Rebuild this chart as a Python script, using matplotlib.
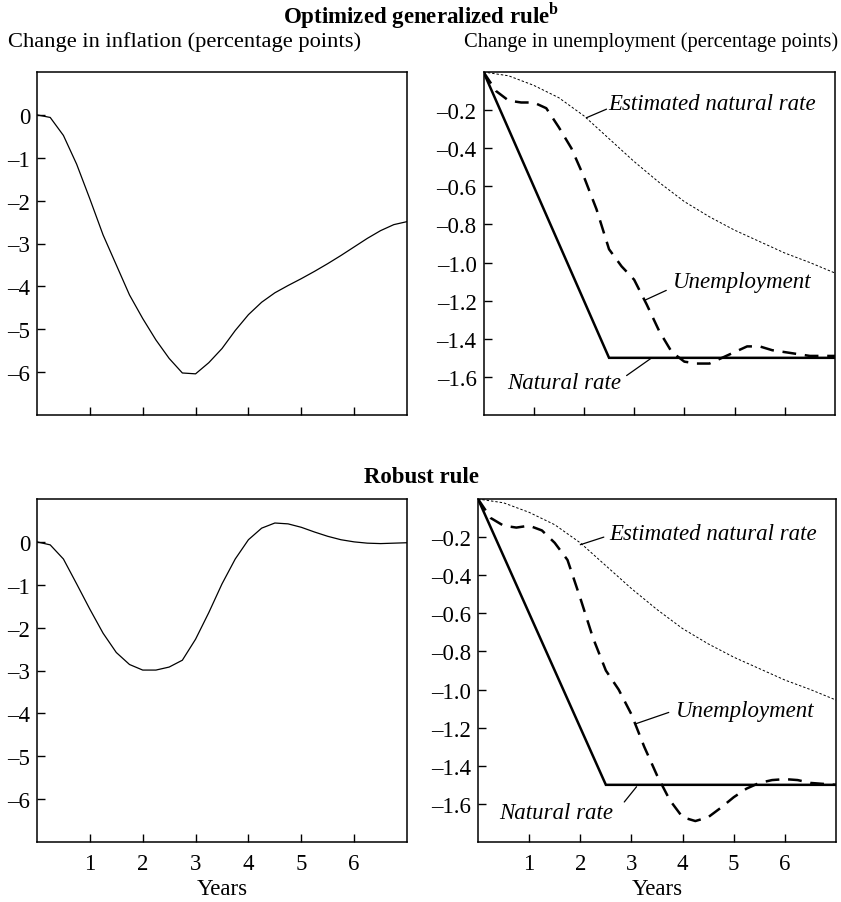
import matplotlib
matplotlib.use("Agg")
import matplotlib.pyplot as plt
from matplotlib.ticker import FixedLocator

plt.rcParams['font.family'] = ['Liberation Serif', 'DejaVu Serif']
plt.rcParams['mathtext.fontset'] = 'custom'
plt.rcParams['mathtext.rm'] = 'Liberation Serif'
plt.rcParams['mathtext.bf'] = 'Liberation Serif:bold'

# Data (quarterly, years 0..7)
years = [i * 0.25 for i in range(29)]

infl_opt = [0, -0.06, -0.48, -1.15, -1.96, -2.80, -3.50, -4.20, -4.75, -5.25,
            -5.68, -6.02, -6.04, -5.78, -5.45, -5.03, -4.66, -4.37, -4.15, -3.98,
            -3.82, -3.65, -3.47, -3.28, -3.08, -2.88, -2.70, -2.56, -2.49]
infl_rob = [0, -0.07, -0.40, -0.98, -1.57, -2.13, -2.58, -2.86, -2.99, -2.99,
            -2.92, -2.76, -2.27, -1.65, -0.98, -0.40, 0.05, 0.32, 0.44, 0.42,
            0.34, 0.23, 0.13, 0.05, 0.00, -0.03, -0.04, -0.03, -0.02]

unemp_opt = [0, -0.10, -0.15, -0.16, -0.16, -0.19, -0.29, -0.40, -0.55, -0.72,
             -0.93, -1.02, -1.09, -1.22, -1.36, -1.47, -1.52, -1.53, -1.53, -1.50,
             -1.47, -1.44, -1.44, -1.46, -1.47, -1.48, -1.49, -1.49, -1.49]
unemp_rob = [0, -0.10, -0.14, -0.15, -0.14, -0.165, -0.23, -0.32, -0.52, -0.73,
             -0.90, -1.00, -1.13, -1.30, -1.45, -1.58, -1.67, -1.69, -1.67, -1.62,
             -1.565, -1.52, -1.49, -1.475, -1.47, -1.475, -1.49, -1.495, -1.50]

# natural rate path (kinked)
nat_years = [0, 2.5, 7]
nat_rate = [0, -1.5, -1.5]

# estimated natural rate (half-year readings)
est_years = [0, 0.5, 1.0, 1.5, 2.0, 2.5, 3.0, 3.5, 4.0, 4.5, 5.0, 5.5, 6.0, 6.5, 7.0]
est_nat = [0, -0.02, -0.07, -0.135, -0.23, -0.35, -0.47, -0.58, -0.68, -0.76,
           -0.83, -0.89, -0.95, -1.00, -1.055]

xticks = [1, 2, 3, 4, 5, 6]
infl_ticks = [0, -1, -2, -3, -4, -5, -6]
unemp_ticks = [-0.2, -0.4, -0.6, -0.8, -1.0, -1.2, -1.4, -1.6]

W, H = 841, 903
fig = plt.figure(figsize=(W / 100, H / 100), dpi=100)


def box(l, t, r, b):
    return [l / W, 1 - b / H, (r - l) / W, (b - t) / H]


ax_tl = fig.add_axes(box(37, 73, 407, 416))
ax_tr = fig.add_axes(box(483.5, 73, 835, 416))
ax_bl = fig.add_axes(box(37, 500, 407, 843))
ax_br = fig.add_axes(box(478, 500, 836, 843))

FS = 16.5


def style(ax, yticks, fmt, show_x):
    ax.set_xlim(0, 7)
    ax.xaxis.set_major_locator(FixedLocator(xticks))
    ax.yaxis.set_major_locator(FixedLocator(yticks))
    ax.set_yticklabels([fmt.format(v).replace('-', '\u2013') for v in yticks])
    ax.tick_params(direction='in', length=6, width=1, top=False, right=False,
                   labelsize=FS, pad=5)
    ax.tick_params(axis='x', pad=8)
    if show_x:
        ax.set_xticklabels([str(v) for v in xticks])
        ax.set_xlabel('Years', fontsize=FS, labelpad=3)
    else:
        ax.set_xticklabels([])
    for s in ax.spines.values():
        s.set_linewidth(1.1)


# inflation panels
ax_tl.plot(years, infl_opt, color='black', lw=0.9)
ax_tl.set_ylim(-7, 1)
style(ax_tl, infl_ticks, '{:d}', False)

ax_bl.plot(years, infl_rob, color='black', lw=0.9)
ax_bl.set_ylim(-7, 1)
style(ax_bl, infl_ticks, '{:d}', True)


def unemp_panel(ax, unemp, show_x):
    ax.plot(nat_years, nat_rate, color='black', lw=1.8, solid_joinstyle='miter')
    ax.plot(est_years, est_nat, color='black', lw=0.7, linestyle=(0, (2.5, 2)))
    ax.plot(years, unemp, color='black', lw=1.8, linestyle=(0, (5.5, 3.5)))
    ax.set_ylim(-1.8, 0)
    style(ax, unemp_ticks, '{:.1f}', show_x)


unemp_panel(ax_tr, unemp_opt, False)
unemp_panel(ax_br, unemp_rob, True)


def label(ax, text, xy_from, xy_to, tx, ty, ha):
    ax.annotate('', xy=xy_from, xytext=xy_to,
                arrowprops=dict(arrowstyle='-', lw=0.9, color='black',
                                shrinkA=0, shrinkB=0))
    ax.text(tx, ty, text, fontsize=FS, style='italic', ha=ha, va='center')


label(ax_tr, 'Estimated natural rate', (2.05, -0.24), (2.45, -0.195), 2.48, -0.163, 'left')
label(ax_tr, 'Unemployment', (3.21, -1.198), (3.64, -1.146), 3.77, -1.10, 'left')
label(ax_tr, 'Natural rate', (3.34, -1.502), (2.85, -1.593), 2.75, -1.63, 'right')

label(ax_br, 'Estimated natural rate', (2.0, -0.24), (2.46, -0.20), 2.57, -0.18, 'left')
label(ax_br, 'Unemployment', (3.08, -1.18), (3.73, -1.12), 3.86, -1.11, 'left')
label(ax_br, 'Natural rate', (3.10, -1.51), (2.86, -1.59), 2.65, -1.645, 'right')

# titles
fig.text(421 / W, 1 - 23 / H, r'Optimized generalized rule$^{\mathbf{b}}$',
         fontsize=16.5, fontweight='bold', ha='center', va='baseline')
fig.text(8 / W, 1 - 47 / H, 'Change in inflation (percentage points)',
         fontsize=16.2, ha='left', va='baseline')
fig.text(838 / W, 1 - 47 / H, 'Change in unemployment (percentage points)',
         fontsize=14.8, ha='right', va='baseline')
fig.text(421 / W, 1 - 483 / H, 'Robust rule',
         fontsize=16.5, fontweight='bold', ha='center', va='baseline')

fig.savefig('out.png', dpi=100)
